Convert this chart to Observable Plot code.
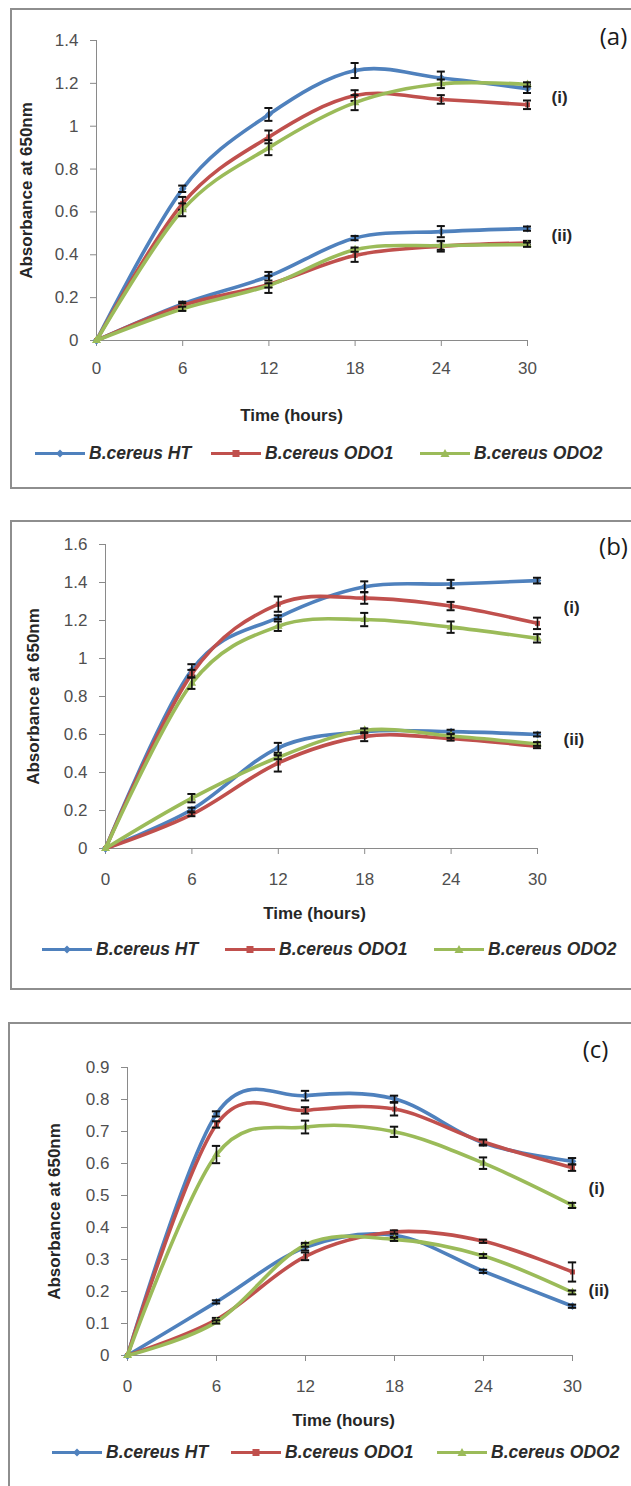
<!DOCTYPE html>
<html><head><meta charset="utf-8">
<script src="https://cdn.jsdelivr.net/npm/d3@7"></script>
<script src="https://cdn.jsdelivr.net/npm/@observablehq/plot@0.6"></script>
<style>
html,body{margin:0;padding:0;background:#fff;}
body{width:631px;height:1486px;position:relative;overflow:hidden;font-family:"Liberation Sans",Arial,sans-serif;}
.box{position:absolute;border:2px solid #8e8e8e;box-sizing:border-box;width:700px;}
.plotwrap{position:absolute;left:0;}
.leg{position:absolute;display:flex;align-items:center;font-weight:bold;font-style:italic;font-size:17.5px;color:#2b2b2b;white-space:nowrap;transform:translateY(-50%);}
.leg svg{margin-right:4px;}
</style></head><body>
<script>
// ---------- data ----------
const hours = [0, 6, 12, 18, 24, 30];
const strains = ["B.cereus HT", "B.cereus ODO1", "B.cereus ODO2"];
const groupLabels = ["(i)", "(ii)"];
const panelTags = ["(a)", "(b)", "(c)"];

const yTicksA = [0, 0.2, 0.4, 0.6, 0.8, 1, 1.2, 1.4];
const yTicksB = [0, 0.2, 0.4, 0.6, 0.8, 1, 1.2, 1.4, 1.6];
const yTicksC = [0, 0.1, 0.2, 0.3, 0.4, 0.5, 0.6, 0.7, 0.8, 0.9];

// Panel (a): rows = HT, ODO1, ODO2
const a_i_mean  = [[0, 0.708, 1.055, 1.26, 1.225, 1.175], [0, 0.64, 0.95, 1.143, 1.125, 1.10], [0, 0.61, 0.90, 1.11, 1.198, 1.195]];
const a_i_err   = [[0, 0.015, 0.03, 0.035, 0.03, 0.02], [0, 0.03, 0.03, 0.025, 0.02, 0.02], [0, 0.03, 0.035, 0.035, 0.02, 0.01]];
const a_ii_mean = [[0, 0.171, 0.30, 0.478, 0.508, 0.522], [0, 0.164, 0.262, 0.397, 0.44, 0.455], [0, 0.148, 0.257, 0.424, 0.443, 0.447]];
const a_ii_err  = [[0, 0.01, 0.02, 0.01, 0.026, 0.01], [0, 0.01, 0.04, 0.03, 0.025, 0.01], [0, 0.01, 0.01, 0.01, 0.02, 0.01]];
const a_labelY  = [1.136, 0.49];

// Panel (b)
const b_i_mean  = [[0, 0.94, 1.217, 1.378, 1.392, 1.41], [0, 0.92, 1.286, 1.318, 1.276, 1.185], [0, 0.87, 1.17, 1.205, 1.165, 1.106]];
const b_i_err   = [[0, 0.03, 0.01, 0.028, 0.022, 0.015], [0, 0.02, 0.04, 0.03, 0.022, 0.03], [0, 0.03, 0.025, 0.035, 0.03, 0.022]];
const b_ii_mean = [[0, 0.205, 0.53, 0.615, 0.615, 0.60], [0, 0.18, 0.45, 0.59, 0.578, 0.538], [0, 0.265, 0.48, 0.622, 0.592, 0.55]];
const b_ii_err  = [[0, 0.01, 0.026, 0.01, 0.01, 0.01], [0, 0.01, 0.045, 0.025, 0.01, 0.01], [0, 0.022, 0.01, 0.01, 0.01, 0.01]];
const b_labelY  = [1.269, 0.575];

// Panel (c)
const c_i_mean  = [[0, 0.755, 0.812, 0.802, 0.664, 0.607], [0, 0.722, 0.766, 0.77, 0.667, 0.587], [0, 0.628, 0.714, 0.699, 0.601, 0.469]];
const c_i_err   = [[0, 0.008, 0.015, 0.01, 0.008, 0.01], [0, 0.01, 0.01, 0.02, 0.008, 0.01], [0, 0.027, 0.02, 0.016, 0.018, 0.008]];
const c_ii_mean = [[0, 0.1675, 0.338, 0.376, 0.263, 0.154], [0, 0.1125, 0.31, 0.386, 0.357, 0.261], [0, 0.105, 0.346, 0.363, 0.311, 0.197]];
const c_ii_err  = [[0, 0.005, 0.01, 0.005, 0.005, 0.005], [0, 0.005, 0.012, 0.005, 0.005, 0.03], [0, 0.005, 0.006, 0.005, 0.006, 0.006]];
const c_labelY  = [0.522, 0.204];

// ---------- styling ----------
const colors = ["#4F81BD", "#C0504D", "#9BBB59"];
const symbols = ["diamond2", "square2", "triangle"];
const axisGray = "#8a8a8a";
const tickText = "#4f4f4f";
const titleText = "#262626";
const FONT = "'Liberation Sans', Arial, sans-serif";

const panels = [
  {tag: panelTags[0], top: 0, height: 480, mL: 96, mR: 104, mT: 40, mB: 140, yMax: 1.4, yTicks: yTicksA,
   means: [a_i_mean, a_ii_mean], errs: [a_i_err, a_ii_err], labelY: a_labelY,
   xPad: 15, yTitleDx: -69.5, xTitleDx: -20.5, xTitleDy: 75, tagDx: 86, tagDy: -3, grpDx: 24,
   legendTop: 453, legend: [35, 211, 420], box: {left: 10, top: 8, height: 481}},
  {tag: panelTags[1], top: 500, height: 480, mL: 105, mR: 94, mT: 44, mB: 132, yMax: 1.6, yTicks: yTicksB,
   means: [b_i_mean, b_ii_mean], errs: [b_i_err, b_ii_err], labelY: b_labelY,
   xPad: 18, yTitleDx: -72, xTitleDx: -7, xTitleDy: 65, tagDx: 76, tagDy: 3, grpDx: 26,
   legendTop: 949, legend: [42, 225, 434], box: {left: 10, top: 520, height: 470}},
  {tag: panelTags[2], top: 1000, height: 480, mL: 127, mR: 59, mT: 67, mB: 125, yMax: 0.9, yTicks: yTicksC,
   means: [c_i_mean, c_ii_mean], errs: [c_i_err, c_ii_err], labelY: c_labelY,
   xPad: 18, yTitleDx: -73, xTitleDx: -6.5, xTitleDy: 65, tagDx: 23, tagDy: -17, grpDx: 16,
   legendTop: 1452, legend: [52, 231, 437], box: {left: 8, top: 1022, height: 500}}
];

function swatch(i) {
  const c = colors[i];
  let m;
  if (i === 0) m = `<path d="M25,2 L29,6 L25,10 L21,6 Z" fill="${c}"/>`;
  else if (i === 1) m = `<rect x="21.5" y="2.5" width="7" height="7" fill="${c}"/>`;
  else m = `<path d="M25,1.5 L29.5,9.5 L20.5,9.5 Z" fill="${c}"/>`;
  return `<svg width="50" height="12" viewBox="0 0 50 12"><line x1="0" y1="6" x2="50" y2="6" stroke="${c}" stroke-width="3"/>${m}</svg>`;
}

const fmt = d => String(Math.round(d * 10) / 10);

for (const p of panels) {
  const box = document.createElement("div");
  box.className = "box";
  box.style.left = p.box.left + "px";
  box.style.top = p.box.top + "px";
  box.style.height = p.box.height + "px";
  document.body.appendChild(box);

  const marks = [
    Plot.ruleY([0], {stroke: axisGray, strokeWidth: 1}),
    Plot.ruleX([0], {stroke: axisGray, strokeWidth: 1}),
    Plot.axisX({ticks: hours, tickSize: 6, tickPadding: p.xPad, stroke: axisGray, fill: tickText, fontSize: 17, label: null, tickFormat: d => String(d)}),
    Plot.axisY({ticks: p.yTicks, tickSize: 6, tickPadding: 12, stroke: axisGray, fill: tickText, fontSize: 17, label: null, tickFormat: fmt})
  ];

  strains.forEach((s, si) => {
    p.means.forEach((groupMeans, gi) => {
      const rows = hours.map((t, k) => ({t, mean: groupMeans[si][k], err: p.errs[gi][si][k]}));
      const errRows = rows.filter(d => d.err > 0);
      marks.push(
        Plot.line(rows, {x: "t", y: "mean", stroke: colors[si], strokeWidth: 3.6, curve: "cardinal", tension: 0}),
        Plot.dot(rows, {x: "t", y: "mean", symbol: symbols[si], fill: colors[si], r: si === 0 ? 3.5 : 3.2, stroke: "none"}),
        Plot.ruleX(errRows, {x: "t", y1: d => d.mean - d.err, y2: d => d.mean + d.err, stroke: "#111", strokeWidth: 1.6}),
        Plot.ruleY(errRows, {y: d => d.mean + d.err, x1: d => d.t - 0.28, x2: d => d.t + 0.28, stroke: "#111", strokeWidth: 2}),
        Plot.ruleY(errRows, {y: d => d.mean - d.err, x1: d => d.t - 0.28, x2: d => d.t + 0.28, stroke: "#111", strokeWidth: 2})
      );
    });
  });

  marks.push(
    Plot.text(groupLabels.map((g, i) => ({g, y: p.labelY[i]})), {x: () => hours[hours.length - 1], y: "y", text: "g", dx: p.grpDx, textAnchor: "start", lineAnchor: "middle", fontSize: 17, fontWeight: "bold", fill: titleText}),
    Plot.text(["Absorbance at 650nm"], {frameAnchor: "left", dx: p.yTitleDx, rotate: -90, textAnchor: "middle", lineAnchor: "middle", fontSize: 17, fontWeight: "bold", fill: titleText}),
    Plot.text(["Time (hours)"], {frameAnchor: "bottom", dx: p.xTitleDx, dy: p.xTitleDy, textAnchor: "middle", lineAnchor: "middle", fontSize: 17, fontWeight: "bold", fill: titleText}),
    Plot.text([p.tag], {frameAnchor: "top-right", dx: p.tagDx, dy: p.tagDy, textAnchor: "middle", lineAnchor: "middle", fontSize: 24, fill: "#1a1a1a", fontFamily: "'Open Sans', 'Liberation Sans', sans-serif"})
  );

  const svg = Plot.plot({
    width: 631, height: p.height,
    marginLeft: p.mL, marginRight: p.mR, marginTop: p.mT, marginBottom: p.mB,
    x: {domain: [0, 30]},
    y: {domain: [0, p.yMax]},
    style: {background: "transparent", fontFamily: FONT, overflow: "visible"},
    marks
  });
  const wrap = document.createElement("div");
  wrap.className = "plotwrap";
  wrap.style.top = p.top + "px";
  wrap.appendChild(svg);
  document.body.appendChild(wrap);

  strains.forEach((s, si) => {
    const item = document.createElement("div");
    item.className = "leg";
    item.style.left = p.legend[si] + "px";
    item.style.top = p.legendTop + "px";
    item.innerHTML = swatch(si) + `<span>${s}</span>`;
    document.body.appendChild(item);
  });
}
</script>
</body></html>
